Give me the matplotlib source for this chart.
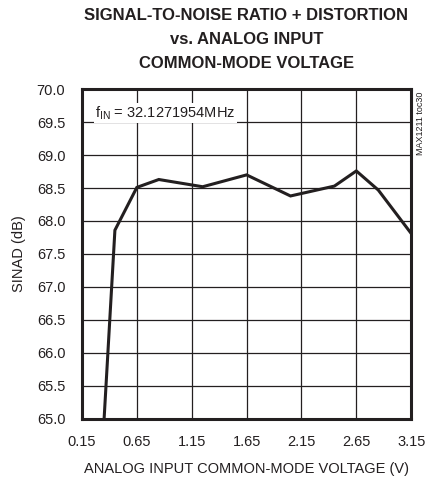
import matplotlib
matplotlib.use("Agg")
import matplotlib.pyplot as plt
import numpy as np

# SINAD vs analog input common-mode voltage
vcm = [0.35, 0.45, 0.65, 0.85, 1.25, 1.65, 2.05, 2.45, 2.65, 2.85, 3.15]
sinad = [64.95, 67.86, 68.51, 68.63, 68.52, 68.70, 68.38, 68.53, 68.76, 68.47, 67.81]

x_ticks = [0.15, 0.65, 1.15, 1.65, 2.15, 2.65, 3.15]
y_ticks = [65.0, 65.5, 66.0, 66.5, 67.0, 67.5, 68.0, 68.5, 69.0, 69.5, 70.0]

plt.rcParams['font.family'] = ['Liberation Sans', 'DejaVu Sans']

fig = plt.figure(figsize=(4.27, 4.8), dpi=100)
ax = fig.add_axes([0.192, 0.128, 0.771, 0.686])

ax.plot(vcm, sinad, color="#231f20", linewidth=2.2, solid_joinstyle="miter", clip_on=True, zorder=3)

ax.set_xlim(0.15, 3.15)
ax.set_ylim(65.0, 70.0)
ax.set_xticks(x_ticks)
ax.set_xticklabels([f"{t:.2f}" for t in x_ticks])
ax.set_yticks(y_ticks)
ax.set_yticklabels([f"{t:.1f}" for t in y_ticks])
ax.tick_params(length=0, labelsize=10.5, pad=12, colors="#231f20")
ax.grid(True, color="#231f20", linewidth=0.9)
for s in ax.spines.values():
    s.set_linewidth(2.2)
    s.set_color("#231f20")

ax.set_xlabel("ANALOG INPUT COMMON-MODE VOLTAGE (V)", fontsize=10.5, labelpad=9, color="#231f20")
ax.set_ylabel("SINAD (dB)", fontsize=10.5, labelpad=8, color="#231f20")

fig.text(0.577, 0.984, "SIGNAL-TO-NOISE RATIO + DISTORTION\nvs. ANALOG INPUT\nCOMMON-MODE VOLTAGE",
         ha="center", va="top", fontsize=12, fontweight="bold", linespacing=1.76, color="#231f20")

ax.text(0.04, 0.955, r"f$_{\mathregular{IN}}$ = 32.1271954MHz", transform=ax.transAxes,
        ha="left", va="top", fontsize=10.5, color="#231f20",
        bbox=dict(facecolor="white", edgecolor="none", pad=1))
fig.text(0.985, 0.81, "MAX1211 toc30", rotation=90, ha="center", va="top", fontsize=6.5, color="#231f20")

fig.savefig("out.png", dpi=100)
